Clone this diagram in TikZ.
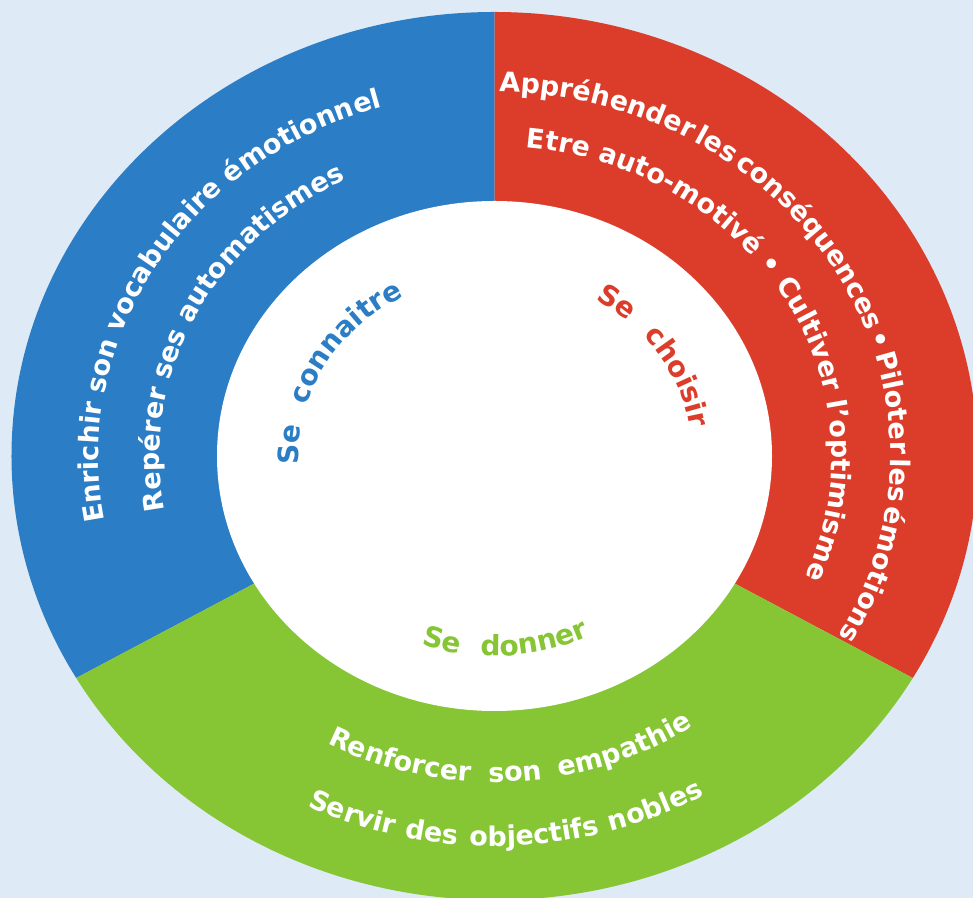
\documentclass[tikz,border=0pt]{standalone}
\usepackage{fontspec}
\setmainfont{DejaVu Sans}
\usetikzlibrary{decorations.text}
\definecolor{bgblue}{RGB}{222,234,246}
\definecolor{segblue}{RGB}{43,126,197}
\definecolor{segred}{RGB}{220,61,43}
\definecolor{seggreen}{RGB}{134,197,51}
\newcommand{\ringfont}{\fontsize{13.5}{15}\selectfont\bfseries}
\newcommand{\corefont}{\fontsize{14}{16}\selectfont\bfseries\spaceskip=0.75em}

\begin{document}
\begin{tikzpicture}[x=0.5pt,y=0.5pt,
  ringtext/.style 2 args={decorate,decoration={text along path,text align=center,text color=white,text={|\ringfont#1|#2}}},
  coretext/.style 2 args={decorate,decoration={text along path,text align=center,text color=#1,text={|\corefont|#2}}}]
  \useasboundingbox (-494.5,-442) rectangle (478.5,456);
  \fill[bgblue] (-494.5,-442) rectangle (478.5,456);
  % the three sectors, then the white core
  \fill[segblue] (0,0) -- (90:483 and 444) arc[start angle=90,end angle=210,x radius=483,y radius=444] -- cycle;
  \fill[segred] (0,0) -- (-30:483 and 444) arc[start angle=-30,end angle=90,x radius=483,y radius=444] -- cycle;
  \fill[seggreen] (0,0) -- (210:483 and 444) arc[start angle=210,end angle=330,x radius=483,y radius=444] -- cycle;
  \fill[white] (0,0) ellipse[x radius=277.5,y radius=255];
  % ring texts
  \path[ringtext={}{Enrichir son vocabulaire émotionnel}] (209:396 and 364) arc[start angle=209,end angle=89,x radius=396,y radius=364];
  \path[ringtext={}{Repérer ses automatismes}] (203.7:335.1 and 308) arc[start angle=203.7,end angle=103.7,x radius=335.1,y radius=308];
  \path[ringtext={\spaceskip=0.14em}{Appréhender les conséquences • Piloter les émotions}] (99.5:396 and 364) arc[start angle=99.5,end angle=-40.5,x radius=396,y radius=364];
  \path[ringtext={}{Etre auto-motivé • Cultiver l'optimisme}] (95.5:337.3 and 310) arc[start angle=95.5,end angle=-34.5,x radius=337.3,y radius=310];
  \path[ringtext={\spaceskip=0.65em}{Renforcer son empathie}] (228:354.7 and 326) arc[start angle=228,end angle=318,x radius=354.7,y radius=326];
  \path[ringtext={\spaceskip=0.42em}{Servir des objectifs nobles}] (226.75:424.3 and 390) arc[start angle=226.75,end angle=316.75,x radius=424.3,y radius=390];
  % core texts
  \path[coretext={segblue}{Se connaitre}] (200.75:195.8 and 180) arc[start angle=200.75,end angle=100.75,x radius=195.8,y radius=180];
  \path[coretext={segred}{Se choisir}] (78.3:198 and 182) arc[start angle=78.3,end angle=-11.7,x radius=198,y radius=182];
  \path[coretext={seggreen}{Se donner}] (228.2:217.6 and 200) arc[start angle=228.2,end angle=318.2,x radius=217.6,y radius=200];
\end{tikzpicture}
\end{document}
